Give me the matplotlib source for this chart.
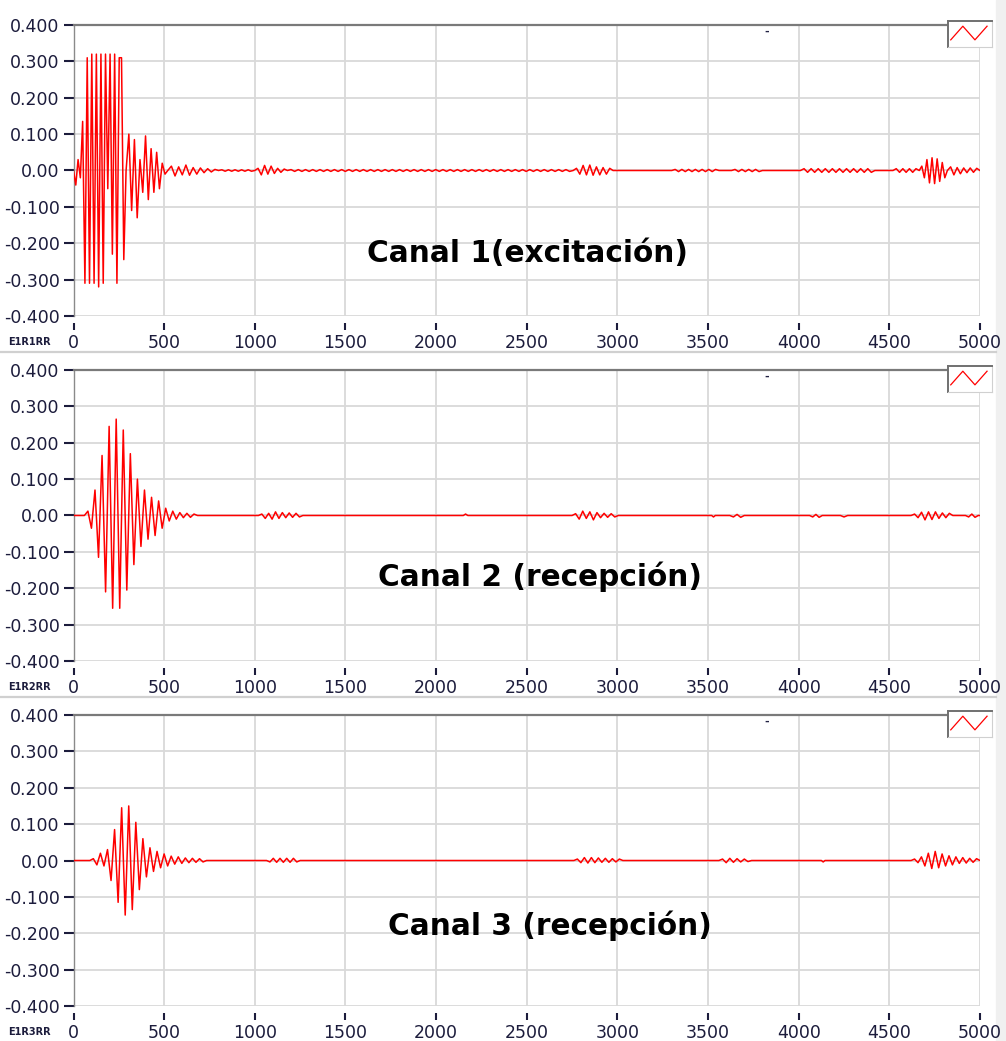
import numpy as np
import matplotlib
matplotlib.use("Agg")
import matplotlib.pyplot as plt

plt.rcParams['axes.unicode_minus'] = False

# ---- data ----
x_ticks = [0, 500, 1000, 1500, 2000, 2500, 3000, 3500, 4000, 4500, 5000]
y_ticks = [0.4, 0.3, 0.2, 0.1, 0.0, -0.1, -0.2, -0.3, -0.4]
y_labels = ['0.400', '0.300', '0.200', '0.100', '0.00', '-0.100', '-0.200', '-0.300', '-0.400']
channel_names = ['Canal 1(excitación)', 'Canal 2 (recepción)', 'Canal 3 (recepción)']
plot_labels = ['E1R1RR', 'E1R2RR', 'E1R3RR']

# bursts: (start, end, signed peak values, evenly spaced between start and end)
ch1_bursts = [
    (0, 290, [-0.04, 0.03, -0.02, 0.135, -0.31, 0.31, -0.31, 0.32, -0.31, 0.32, -0.32,
              0.32, -0.31, 0.32, -0.05, 0.32, -0.23, 0.32, -0.31, 0.31, 0.31, -0.245]),
    (290, 520, [0.10, -0.11, 0.085, -0.13, 0.03, -0.06, 0.095, -0.08, 0.06, -0.06,
                0.05, -0.05, 0.02, -0.01]),
    (520, 800, [0.012, -0.015, 0.01, -0.012, 0.015, -0.013, 0.008, -0.01, 0.007,
                -0.006, 0.005, -0.004, 0.003]),
    (1000, 1180, [0.006, -0.012, 0.014, -0.01, 0.012, -0.008, 0.006, -0.005, 0.004]),
    (2756, 2976, [0.006, -0.01, 0.014, -0.012, 0.015, -0.013, 0.01, -0.012, 0.008,
                  -0.01, 0.006]),
    (4665, 4820, [0.012, -0.02, 0.03, -0.034, 0.035, -0.036, 0.032, -0.03, 0.022, -0.02]),
    (4820, 5000, [0.01, -0.012, 0.008, -0.009, 0.007, -0.006, 0.007, -0.005, 0.006]),
]
ch2_bursts = [
    (60, 684, [0.012, -0.035, 0.07, -0.115, 0.165, -0.21, 0.245, -0.255, 0.265, -0.255,
               0.235, -0.205, 0.17, -0.135, 0.10, -0.085, 0.07, -0.065, 0.05, -0.055,
               0.04, -0.035, 0.02, -0.015, 0.012, -0.01, 0.008, -0.006, 0.006, -0.005,
               0.004]),
    (1020, 1265, [0.004, -0.008, 0.006, -0.01, 0.01, -0.008, 0.008, -0.006, 0.007,
                  -0.005, 0.006, -0.004]),
    (2150, 2175, [0.004]),
    (2750, 3005, [0.005, -0.01, 0.012, -0.008, 0.01, -0.012, 0.008, -0.006, 0.006,
                  -0.005, 0.005, -0.004]),
    (3520, 3540, [-0.004]),
    (3620, 3700, [-0.004, 0.003, -0.005]),
    (4060, 4130, [-0.004, 0.003, -0.005]),
    (4230, 4270, [-0.004]),
    (4620, 4850, [0.004, -0.006, 0.009, -0.012, 0.01, -0.011, 0.01, -0.008, 0.007,
                  -0.006, 0.006]),
    (4920, 4990, [-0.004, 0.004, -0.005]),
]
ch3_bursts = [
    (90, 734, [0.005, -0.012, 0.02, -0.015, 0.03, -0.055, 0.085, -0.115, 0.145, -0.15,
               0.15, -0.135, 0.105, -0.08, 0.06, -0.045, 0.035, -0.03, 0.025, -0.02,
               0.018, -0.015, 0.012, -0.01, 0.01, -0.008, 0.007, -0.006, 0.006, -0.005,
               0.005, -0.004]),
    (1065, 1250, [-0.004, 0.006, -0.005, 0.006, -0.005, 0.006, -0.005, 0.006, -0.004]),
    (2760, 3030, [0.004, -0.006, 0.008, -0.007, 0.008, -0.006, 0.007, -0.005, 0.006,
                  -0.005, 0.005, -0.004, 0.004]),
    (3560, 3740, [0.004, -0.006, 0.006, -0.005, 0.005, -0.004, 0.004, -0.003]),
    (4125, 4145, [-0.004]),
    (4620, 5000, [0.004, -0.006, 0.01, -0.015, 0.02, -0.022, 0.025, -0.02, 0.018, -0.015,
                  0.013, -0.012, 0.01, -0.008, 0.008, -0.007, 0.006, -0.005, 0.005]),
]
# low-level ripple: (start, end, amplitude)
ch1_ripple = [(800, 1000, 0.002), (1180, 2756, 0.0025), (3300, 3560, 0.003),
              (3630, 3800, 0.003), (4010, 4420, 0.005), (4520, 4665, 0.005)]
ch2_ripple = []
ch3_ripple = []

bursts = [ch1_bursts, ch2_bursts, ch3_bursts]
ripples = [ch1_ripple, ch2_ripple, ch3_ripple]

RED = '#ff0000'
TXT = '#1c1c3c'
GRID = '#d9d9d9'


def build_signal(burst_list, ripple_list):
    xs, ys = [0.0, 5000.0], [0.0, 0.0]
    for t0, t1, peaks in burst_list:
        px = np.linspace(t0, t1, len(peaks) + 2)
        xs += list(px)
        ys += [0.0] + list(peaks) + [0.0]
    for t0, t1, amp in ripple_list:
        n = int((t1 - t0) / 20)
        px = np.linspace(t0, t1, n + 2)
        xs += list(px)
        ys += [0.0] + [amp * (-1) ** i for i in range(n)] + [0.0]
    order = np.argsort(xs, kind='stable')
    return np.array(xs)[order], np.array(ys)[order]


W, H = 1006, 1041
fig = plt.figure(figsize=(W / 100, H / 100), dpi=100)
fig.patch.set_facecolor('white')

tops = [25, 370, 715]
left, right = 73.5, 980
ph = 291

# light strip on the right edge and separators
fig.add_artist(plt.Rectangle((996 / W, 0), 10 / W, 1, transform=fig.transFigure,
                             color='#f0f0f0', zorder=0))
for sy in [352, 697]:
    fig.add_artist(plt.Line2D([0, 996 / W], [1 - sy / H] * 2, transform=fig.transFigure,
                              color='#d0d0d0', lw=1.6))

for k in range(3):
    top = tops[k]
    ax = fig.add_axes([left / W, 1 - (top + ph) / H, (right - left) / W, ph / H])
    x, y = build_signal(bursts[k], ripples[k])
    ax.plot(x, y, color=RED, lw=1.1, zorder=3)
    ax.set_xlim(0, 5000)
    ax.set_ylim(-0.4, 0.4)
    ax.set_xticks(x_ticks)
    ax.set_xticklabels([str(t) for t in x_ticks])
    ax.set_yticks(y_ticks)
    ax.set_yticklabels(y_labels)
    ax.grid(True, color=GRID, lw=1.3)
    ax.set_axisbelow(True)
    for s in ['right', 'bottom']:
        ax.spines[s].set_visible(False)
    ax.spines['top'].set_color('#7a7a7a')
    ax.spines['top'].set_linewidth(1.6)
    ax.spines['left'].set_color('#8a8a8a')
    ax.spines['left'].set_linewidth(1.0)
    ax.spines['bottom'].set_position(('outward', 5))
    ax.tick_params(axis='y', direction='out', length=7, width=1.5, color=TXT,
                   labelcolor=TXT, labelsize=12.5, pad=3)
    ax.tick_params(axis='x', direction='out', length=5, width=1.5, color=TXT,
                   labelcolor=TXT, labelsize=12.5, pad=3)
    for lab in ax.get_xticklabels() + ax.get_yticklabels():
        lab.set_family('DejaVu Sans')

    # channel caption
    cx = [527, 540, 550][k]
    cy = [253, 577, 926][k]
    fig.text(cx / W, 1 - cy / H, channel_names[k], ha='center', va='center',
             fontsize=21.3, fontweight='bold', family='DejaVu Sans', color='black')

    # plot name at bottom-left
    fig.text(8 / W, 1 - (top + ph + 26) / H, plot_labels[k], ha='left', va='center',
             fontsize=7, fontweight='bold', color=TXT)

    # small marker near the top
    fig.text(767 / W, 1 - (top + 7) / H, '-', ha='center', va='center',
             fontsize=8, fontweight='bold', color='#222244')

    # legend glyph box
    lg = fig.add_axes([948 / W, 1 - (top + 22) / H, 44 / W, 26 / H])
    lg.set_xlim(0, 4)
    lg.set_ylim(0, 2)
    lg.plot([0.25, 1.35, 2.45, 3.55], [0.55, 1.6, 0.55, 1.6], color=RED, lw=0.9)
    lg.set_xticks([])
    lg.set_yticks([])
    for s in ['right', 'bottom']:
        lg.spines[s].set_color('#d0d0d0')
    for s in ['left', 'top']:
        lg.spines[s].set_color('#707070')
        lg.spines[s].set_linewidth(1.4)

fig.savefig('out.png', dpi=100, facecolor='white')
